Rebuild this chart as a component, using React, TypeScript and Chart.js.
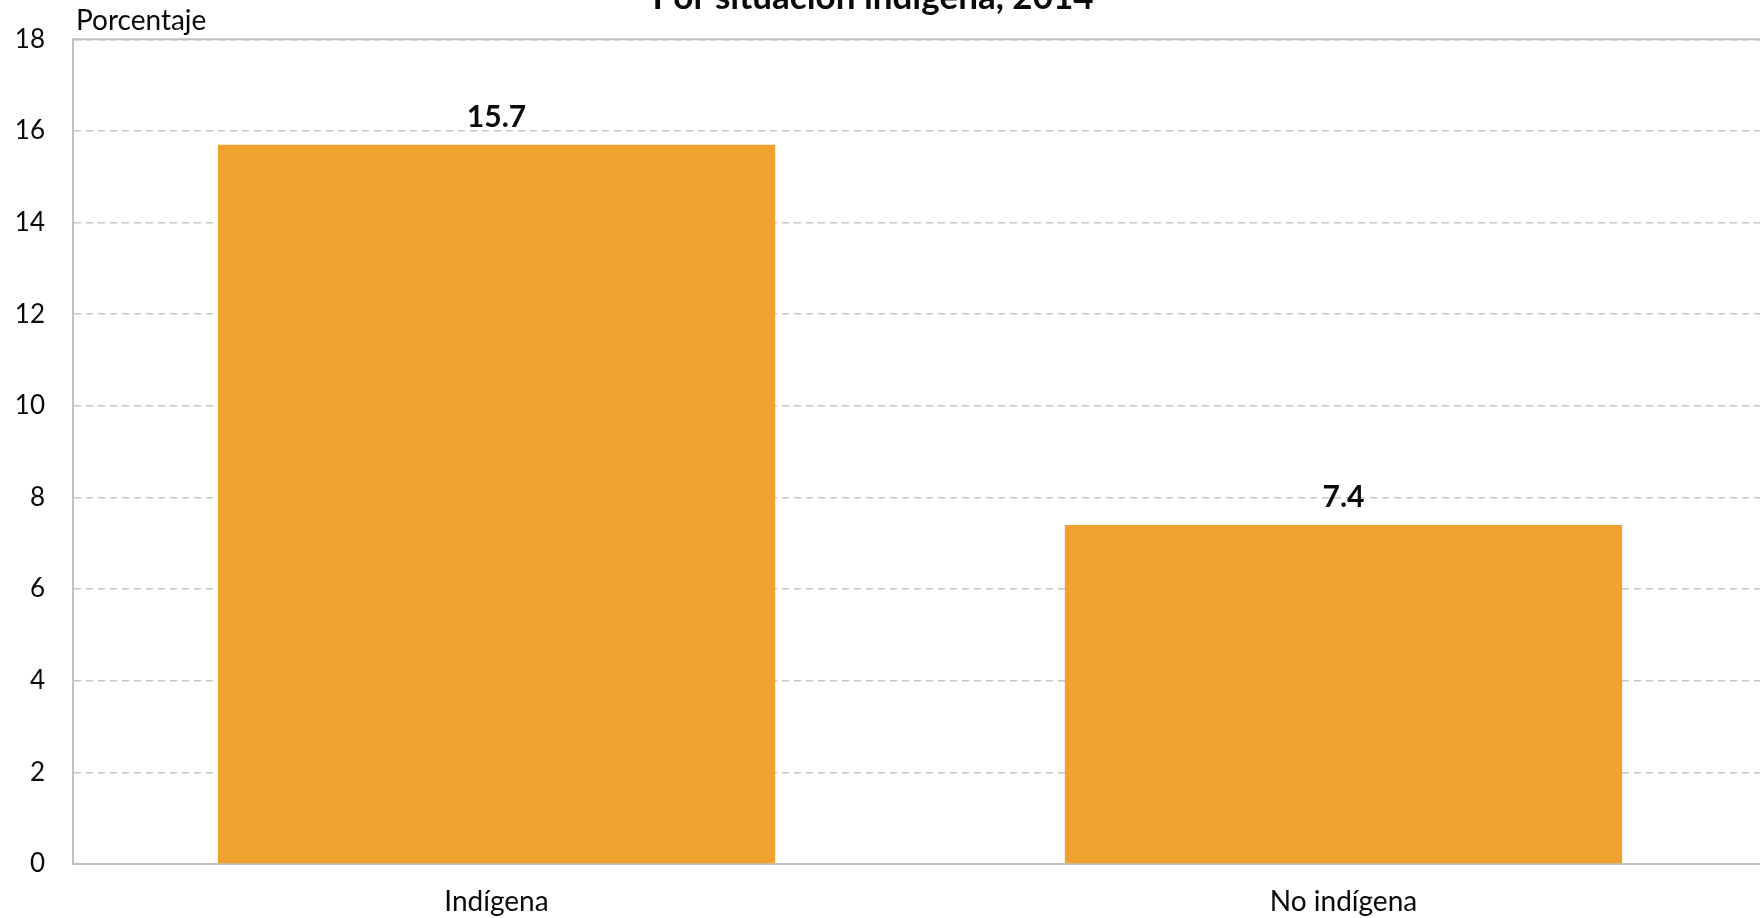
import React, { useEffect, useRef } from "react";
import { Chart, registerables } from "chart.js";

Chart.register(...registerables);

const categories = ["Indígena", "No indígena"];
const values = [15.7, 7.4];
const yTicks = [0, 2, 4, 6, 8, 10, 12, 14, 16, 18];
const titleText = "Por situación indígena, 2014";
const yAxisTitle = "Porcentaje";

const FONT = "Lato, 'Open Sans', sans-serif";
const BAR_COLOR = "#EFA32E";
const GRID_COLOR = "#C6C6C6";
const AXIS_COLOR = "#C0C0C0";
const TEXT_COLOR = "#0A0A0A";

export default function App() {
  const ref = useRef<HTMLCanvasElement | null>(null);

  useEffect(() => {
    if (!ref.current) return;

    const labelsPlugin = {
      id: "extraText",
      afterDatasetsDraw(chart: any) {
        const ctx = chart.ctx;
        const meta = chart.getDatasetMeta(0);
        ctx.save();
        ctx.fillStyle = TEXT_COLOR;
        ctx.font = `bold 30px ${FONT}`;
        ctx.textAlign = "center";
        ctx.textBaseline = "alphabetic";
        meta.data.forEach((bar: any, i: number) => {
          ctx.fillText(values[i].toFixed(1), bar.x, bar.y - 18);
        });
        ctx.restore();
      },
      afterDraw(chart: any) {
        const ctx = chart.ctx;
        const area = chart.chartArea;
        ctx.save();
        // solid top border of the plot area
        ctx.strokeStyle = AXIS_COLOR;
        ctx.lineWidth = 2;
        ctx.beginPath();
        ctx.moveTo(area.left, area.top);
        ctx.lineTo(area.right, area.top);
        ctx.stroke();
        // chart title (partly cut off at the top edge)
        ctx.fillStyle = TEXT_COLOR;
        ctx.font = `bold 35px ${FONT}`;
        ctx.textAlign = "center";
        ctx.textBaseline = "alphabetic";
        ctx.fillText(titleText, 873, 9);
        // y axis title
        ctx.font = `28px ${FONT}`;
        ctx.textAlign = "left";
        ctx.fillText(yAxisTitle, area.left + 3, area.top - 9);
        ctx.restore();
      },
    };

    const chart = new Chart(ref.current, {
      type: "bar",
      data: {
        labels: categories,
        datasets: [
          {
            data: values,
            backgroundColor: BAR_COLOR,
            borderWidth: 0,
            barPercentage: 0.658,
            categoryPercentage: 1,
          },
        ],
      },
      options: {
        responsive: false,
        animation: false,
        layout: { padding: { top: 39, left: 0, right: 0, bottom: 0 } },
        plugins: {
          legend: { display: false },
          title: { display: false },
          tooltip: { enabled: false },
        },
        scales: {
          x: {
            grid: { display: false, drawTicks: false },
            border: { display: true, color: AXIS_COLOR, width: 2 },
            ticks: {
              color: TEXT_COLOR,
              font: { family: FONT, size: 28 },
              padding: 21,
            },
            afterFit: (s: any) => {
              s.height = 54;
            },
          },
          y: {
            min: 0,
            max: 18,
            afterBuildTicks: (s: any) => {
              s.ticks = yTicks.map((v) => ({ value: v }));
            },
            grid: {
              color: GRID_COLOR,
              lineWidth: 1.5,
              drawTicks: false,
            },
            border: { display: true, color: AXIS_COLOR, width: 2, dash: [7, 5] },
            ticks: {
              color: TEXT_COLOR,
              font: { family: FONT, size: 26, lineHeight: 0.87 },
              padding: 28,
            },
            afterFit: (s: any) => {
              s.width = 73;
            },
          },
        },
      },
      plugins: [labelsPlugin],
    });

    return () => chart.destroy();
  }, []);

  return (
    <div
      style={{
        position: "fixed",
        left: 0,
        top: 0,
        width: 1760,
        height: 918,
        overflow: "hidden",
        background: "#ffffff",
      }}
    >
      <canvas ref={ref} width={1767} height={918} style={{ display: "block" }} />
    </div>
  );
}
